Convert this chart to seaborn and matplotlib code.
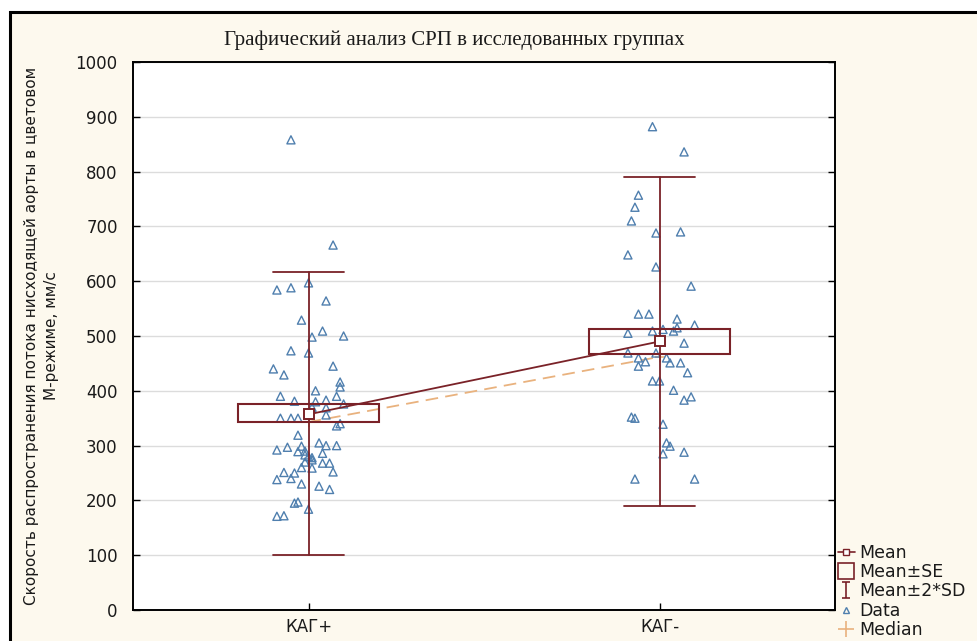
import numpy as np
import pandas as pd
import matplotlib
matplotlib.use("Agg")
import matplotlib.pyplot as plt
import seaborn as sns
from matplotlib.patches import Rectangle
from matplotlib.lines import Line2D
from matplotlib.path import Path

# ---------------- data ----------------
groups = ["КАГ+", "КАГ-"]

g1_values = [858, 666, 584, 588, 597, 564, 529, 509, 498, 500, 473, 469, 445, 440, 429,
             416, 407, 400, 390, 390, 381, 380, 383, 376, 370, 369, 356, 350, 350, 350,
             336, 340, 319, 292, 297, 299, 289, 283, 280, 305, 300, 300, 286, 274, 268,
             268, 259, 252, 251, 250, 238, 240, 230, 226, 220, 195, 197, 184, 171, 172,
             290, 278, 270, 260]
g1_offsets = [-0.05, 0.07, -0.09, -0.05, 0.00, 0.05, -0.02, 0.04, 0.01, 0.10, -0.05, -0.00,
              0.07, -0.10, -0.07, 0.09, 0.09, 0.02, -0.08, 0.08, -0.04, 0.02, 0.05, 0.10,
              0.01, 0.05, 0.05, -0.08, -0.05, -0.03, 0.08, 0.09, -0.03, -0.09, -0.06, -0.02,
              -0.03, -0.01, 0.00, 0.03, 0.05, 0.08, 0.04, 0.01, 0.04, 0.06, 0.01, 0.07,
              -0.07, -0.04, -0.09, -0.05, -0.02, 0.03, 0.06, -0.04, -0.03, 0.00, -0.09,
              -0.07, -0.01, 0.01, -0.01, -0.02]

g2_values = [882, 836, 757, 735, 710, 688, 690, 648, 626, 591, 540, 540, 531, 520, 509,
             512, 509, 515, 505, 487, 469, 460, 453, 445, 469, 460, 451, 451, 433, 418,
             418, 401, 383, 389, 352, 350, 339, 305, 299, 285, 288, 239, 239]
g2_offsets = [-0.02, 0.07, -0.06, -0.07, -0.08, -0.01, 0.06, -0.09, -0.01, 0.09, -0.06,
              -0.03, 0.05, 0.10, -0.02, 0.01, 0.04, 0.05, -0.09, 0.07, -0.09, -0.06, -0.04,
              -0.06, -0.01, 0.02, 0.03, 0.06, 0.08, -0.02, -0.00, 0.04, 0.07, 0.09, -0.08,
              -0.07, 0.01, 0.02, 0.03, 0.01, 0.07, -0.07, 0.10]

means = [357, 490]
se_low = [343, 467]
se_high = [375, 512]
sd2_low = [100, 190]
sd2_high = [617, 790]
medians = [343, 462]

y_ticks = [0, 100, 200, 300, 400, 500, 600, 700, 800, 900, 1000]

title = "Графический анализ СРП в исследованных группах"
ylabel = "Скорость распространения потока нисходящей аорты в цветовом\nМ-режиме, мм/с"
legend_labels = ["Mean", "Mean±SE", "Mean±2*SD", "Data", "Median"]

# ---------------- styling ----------------
RED = "#7a2228"
BLUE = "#4f7fae"
TAN = "#e9b27e"
CREAM = "#fdf9ee"
TXT = "#1a1a1a"

sns.set_theme(style="white")
plt.rcParams["font.family"] = ["DejaVu Sans"]
plt.rcParams["text.color"] = TXT
plt.rcParams["axes.labelcolor"] = TXT

fig = plt.figure(figsize=(9.77, 6.41), dpi=100, facecolor="white")
# outer framed background
fig.patches.append(Rectangle((10 / 977, -0.05), 1.2, (641 - 12) / 641 + 0.05,
                             transform=fig.transFigure, facecolor=CREAM,
                             edgecolor="black", linewidth=2.2, zorder=-10))

ax = fig.add_axes([133 / 977, (641 - 610) / 641, (835 - 133) / 977, (610 - 62) / 641])
ax.set_facecolor("white")

x_idx = [0, 1]

# data points
pts = pd.DataFrame({
    "x": [0 + o for o in g1_offsets] + [1 + o for o in g2_offsets],
    "y": g1_values + g2_values,
})
sns.scatterplot(data=pts, x="x", y="y", marker="^", s=34, facecolor="none",
                edgecolor=BLUE, linewidth=1.0, ax=ax, zorder=3, legend=False)

# median line (dashed)
med_df = pd.DataFrame({"x": x_idx, "y": medians})
sns.lineplot(data=med_df, x="x", y="y", color=TAN, linestyle=(0, (7, 4)),
             linewidth=1.3, ax=ax, zorder=2, marker="+", markersize=7,
             markeredgecolor=TAN, markeredgewidth=1.2)

# mean line
mean_df = pd.DataFrame({"x": x_idx, "y": means})
sns.lineplot(data=mean_df, x="x", y="y", color=RED, linewidth=1.3, ax=ax, zorder=4)

for i in x_idx:
    # SE box
    ax.add_patch(Rectangle((i - 0.2, se_low[i]), 0.4, se_high[i] - se_low[i],
                           facecolor="none", edgecolor=RED, linewidth=1.5, zorder=4))
    # 2*SD whisker
    ax.plot([i, i], [sd2_low[i], sd2_high[i]], color=RED, linewidth=1.3, zorder=4)
    ax.plot([i - 0.1, i + 0.1], [sd2_low[i], sd2_low[i]], color=RED, linewidth=1.3, zorder=4)
    ax.plot([i - 0.1, i + 0.1], [sd2_high[i], sd2_high[i]], color=RED, linewidth=1.3, zorder=4)
    # mean marker
    ax.plot([i], [means[i]], marker="s", markersize=7, markerfacecolor="white",
            markeredgecolor=RED, markeredgewidth=1.4, linestyle="none", zorder=5)

ax.set_xlim(-0.5, 1.5)
ax.set_ylim(0, 1000)
ax.set_xticks(x_idx)
ax.set_xticklabels(groups)
ax.set_yticks(y_ticks)
ax.set_yticklabels([str(t) for t in y_ticks])
ax.set_xlabel("")
ax.set_ylabel(ylabel, fontsize=11, labelpad=12, linespacing=1.45)
ax.grid(axis="y", color="#dcdcdc", linewidth=1.0)
ax.grid(axis="x", visible=False)
ax.set_axisbelow(True)
ax.tick_params(axis="both", direction="in", length=5, width=1, color="black",
               labelsize=12, labelcolor=TXT, left=True, right=True, bottom=True)
ax.tick_params(axis="y", pad=11)
ax.tick_params(axis="x", pad=6)
for s in ax.spines.values():
    s.set_color("black")
    s.set_linewidth(1.4)

fig.text(454 / 977, 1 - 40 / 641, title, ha="center", va="center",
         fontsize=15, family=["Liberation Serif", "DejaVu Serif"])

# legend
ibeam = Path([(-0.5, 1), (0.5, 1), (0, 1), (0, -1), (-0.5, -1), (0.5, -1)],
             [Path.MOVETO, Path.LINETO, Path.MOVETO, Path.LINETO, Path.MOVETO, Path.LINETO])
handles = [
    Line2D([], [], color=RED, marker="s", markersize=5, markerfacecolor="white",
           markeredgecolor=RED, linewidth=1.2),
    Line2D([], [], color=RED, marker="s", markersize=11, markerfacecolor="none",
           markeredgecolor=RED, linestyle="none", markeredgewidth=1.2),
    Line2D([], [], color=RED, marker=ibeam, markersize=11, markerfacecolor="none",
           markeredgecolor=RED, linestyle="none", markeredgewidth=1.2),
    Line2D([], [], color=BLUE, marker="^", markersize=5, markerfacecolor="none",
           markeredgecolor=BLUE, linestyle="none", markeredgewidth=1.0),
    Line2D([], [], color=TAN, marker="+", markersize=11, markeredgecolor=TAN,
           linestyle="none", markeredgewidth=1.2),
]
fig.legend(handles, legend_labels, loc="lower left",
           bbox_to_anchor=(836 / 977, 0.0), frameon=False, fontsize=12.5,
           handlelength=1.0, handletextpad=0.25, labelspacing=0.08,
           borderpad=0.1, borderaxespad=0)

fig.savefig("out.png", dpi=100, facecolor=fig.get_facecolor())
